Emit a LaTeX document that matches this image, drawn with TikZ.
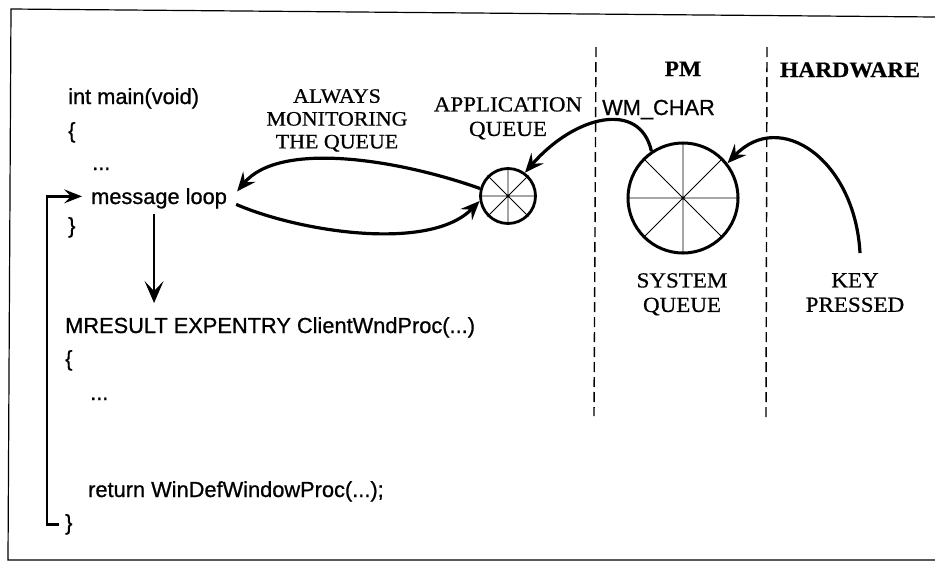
\documentclass[tikz,border=0pt]{standalone}
\usepackage{fontspec}
\setmainfont[FakeStretch=1.07,FakeBold=0.6]{Liberation Serif}
\newfontfamily\codefont[FakeBold=0.8]{Liberation Sans}
\usetikzlibrary{arrows.meta,calc}
\begin{document}
\begin{tikzpicture}[x=1pt,y=-1pt,
  code/.style={font=\codefont\fontsize{21.8}{25}\selectfont, anchor=base west, inner sep=0pt},
  smalllbl/.style={font=\fontsize{20.5}{22.8}\selectfont, align=center, inner sep=0pt, anchor=north},
  lbl/.style={font=\fontsize{21.5}{24.5}\selectfont, align=center, inner sep=0pt, anchor=north},
  head/.style={font=\bfseries\fontsize{22}{24}\selectfont, inner sep=0pt, anchor=base},
  curvearrow/.style={line width=3.2pt, -{Stealth[length=19pt,width=16pt,inset=7pt]}},
  queue/.style={circle, draw, inner sep=0pt},
  spoke/.style={line width=0.8pt},
  divider/.style={dash pattern=on 10pt off 5pt, line width=1.4pt}
]
\useasboundingbox (0,0) rectangle (935,571);
% frame
\draw[line width=1.2pt] (935,17) -- (11,9) -- (8,560) -- (935,560);

% code text
\node[code] (im)  at (68,104)  {int main(void)};
\node[code] (ob1) at (68,138)  {\{};
\node[code] (dt1) at (92,170)  {...};
\node[code] (ml)  at (91,204)  {message loop};
\node[code] (cb1) at (68,233)  {\}};
\node[code] (mr)  at (65,333)  {MRESULT EXPENTRY ClientWndProc(...)};
\node[code] (ob2) at (65,366)  {\{};
\node[code] (dt2) at (90,400)  {...};
\node[code] (rt)  at (88,497)  {return WinDefWindowProc(...);};
\node[code] (cb2) at (65,530)  {\}};

% labels
\node[smalllbl] (amq) at (337,89) {ALWAYS\\MONITORING\\THE QUEUE};
\node[lbl] (aql) at (508,97) {APPLICATION\\QUEUE};
\node[lbl] (sql) at (682,273) {SYSTEM\\QUEUE};
\node[lbl] (kp)  at (855,273) {KEY\\PRESSED};
\node[head] (pm) at (683,76) {PM};
\node[head] (hw) at (850,77) {HARDWARE};
\node[code] (wm) at (602,115) {WM\_CHAR};

% dividers
\draw[divider] (596,47) -- (594,416);
\draw[divider] (767,47) -- (766,419);

% queues
\node[queue, minimum size=55pt, line width=2.8pt] (aq) at (508,196) {};
\draw[spoke] (aq.0) -- (aq.180) (aq.45) -- (aq.225) (aq.90) -- (aq.270) (aq.135) -- (aq.315);
\node[queue, minimum size=110pt, line width=3pt] (sq) at (683,198) {};
\draw[spoke] (sq.0) -- (sq.180) (sq.45) -- (sq.225) (sq.90) -- (sq.270) (sq.135) -- (sq.315);

% loop arrows
\draw[curvearrow] ([shift={(9,6)}]ml.east) .. controls (300,232) and (430,252) .. (aq.190);
\draw[curvearrow] (aq.165) .. controls (400,160) and (280,140) .. ([shift={(10,-7)}]ml.east);
\draw[curvearrow] (sq.124) .. controls (640,100) and (575,115) .. (aq.54);
\draw[curvearrow] ([shift={(5,-20)}]kp.north) .. controls (855,160) and (780,108) .. (sq.38);

% down arrow
\draw[line width=2pt, -{Stealth[length=22pt,width=19pt,inset=10pt]}]
  ([xshift=-5pt,yshift=-5pt]ml.south) -- ([xshift=-5pt,yshift=14pt]ml.south |- mr.north);

% return loop
\draw[line width=2.6pt, -{Stealth[length=18pt,width=14pt,inset=7pt]}]
  ([xshift=-6pt]cb2.west) -- ++(-12,0) |- ([xshift=-9pt,yshift=2pt]ml.west);
\end{tikzpicture}
\end{document}
